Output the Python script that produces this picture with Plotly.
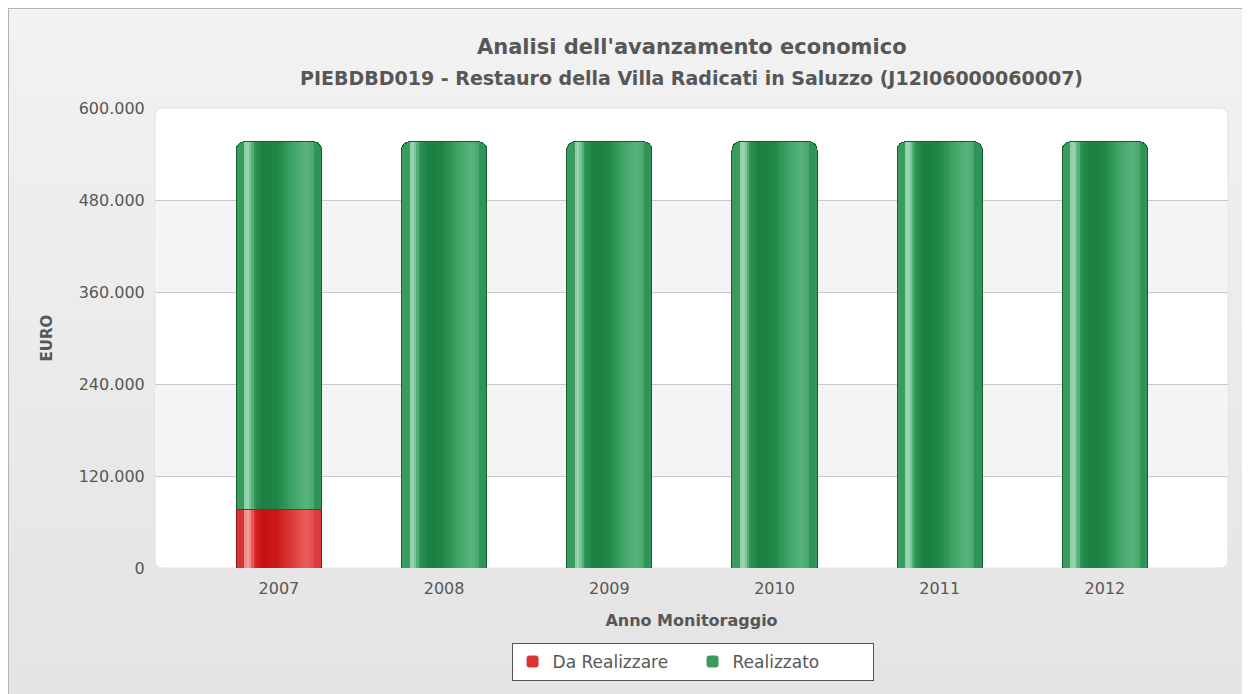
import plotly.graph_objects as go

# ---- data ----
anni = ["2007", "2008", "2009", "2010", "2011", "2012"]
da_realizzare = [76000, 0, 0, 0, 0, 0]
realizzato = [480000, 556000, 556000, 556000, 556000, 556000]
y_ticks = [0, 120000, 240000, 360000, 480000, 600000]

title_main = "Analisi dell'avanzamento economico"
title_sub = "PIEBDBD019 - Restauro della Villa Radicati in Saluzzo (J12I06000060007)"

# page has an 8px body margin -> figure is placed at (8, 8)
W, H = 1242, 686
ML, MR, MT, MB = 147, 22, 100, 126
PW, PH = W - ML - MR, H - MT - MB
BAR_W = 0.515
CAT_PX = PW / (5.745 + 0.75)
BAR_PX = BAR_W * CAT_PX
R = 8  # corner radius px
EDGE = R / BAR_PX

FONT = "DejaVu Sans"
TXT = "#575757"


def hex2rgb(h):
    h = h.lstrip("#")
    return tuple(int(h[i:i + 2], 16) for i in (0, 2, 4))


def interp(keys, t):
    for (t0, c0), (t1, c1) in zip(keys[:-1], keys[1:]):
        if t0 <= t <= t1:
            f = (t - t0) / (t1 - t0) if t1 > t0 else 0
            a, b = hex2rgb(c0), hex2rgb(c1)
            return "rgb(%d,%d,%d)" % tuple(round(a[k] + (b[k] - a[k]) * f) for k in range(3))
    return keys[-1][1] if t > keys[-1][0] else keys[0][1]


green_keys = [(0.09, "#6cc08c"), (0.12, "#a9dcbb"), (0.16, "#7cc699"), (0.22, "#2a9152"),
              (0.32, "#1b8042"), (0.48, "#1e8646"), (0.66, "#3ea466"), (0.82, "#58b47d"),
              (0.91, "#46a66b")]
red_keys = [(0.09, "#ec6a6a"), (0.12, "#f6a9a9"), (0.16, "#f08a8a"), (0.22, "#d52222"),
            (0.32, "#c81010"), (0.48, "#cc1a1a"), (0.66, "#dd3c3c"), (0.82, "#eb5e5e"),
            (0.91, "#e04848")]

fig = go.Figure()

# left / right halves: give the rounded outer corners and edge colour
halves = [("L", -BAR_W / 2, "#d83434", "#3a9b5e", True),
          ("R", 0.0, "#da3c3c", "#2f9457", False)]
for tag, off, rc, gc, leg in halves:
    fig.add_trace(go.Bar(
        name="Da Realizzare", x=anni, y=da_realizzare, offsetgroup="half" + tag,
        width=BAR_W / 2, offset=off, legendgroup="dr", showlegend=leg,
        marker=dict(color=rc, line=dict(width=0), cornerradius=R),
    ))
    fig.add_trace(go.Bar(
        name="Realizzato", x=anni, y=realizzato, offsetgroup="half" + tag,
        width=BAR_W / 2, offset=off, legendgroup="re", showlegend=leg,
        marker=dict(color=gc, line=dict(width=0), cornerradius=R),
    ))

# interior cylinder shading strips
NS = 30
s0, s1 = EDGE, 1 - EDGE
sw = (s1 - s0) / NS
for i in range(NS):
    a = s0 + i * sw
    tc = a + sw / 2
    og = "s%d" % i
    fig.add_trace(go.Bar(
        x=anni, y=da_realizzare, offsetgroup=og,
        width=sw * BAR_W * 1.05, offset=-BAR_W / 2 + a * BAR_W,
        marker=dict(color=interp(red_keys, tc), line=dict(width=0)),
        showlegend=False, hoverinfo="skip",
    ))
    fig.add_trace(go.Bar(
        x=anni, y=realizzato, offsetgroup=og,
        width=sw * BAR_W * 1.05, offset=-BAR_W / 2 + a * BAR_W,
        marker=dict(color=interp(green_keys, tc), line=dict(width=0)),
        showlegend=False, hoverinfo="skip",
    ))

# outlines on top
fig.add_trace(go.Bar(
    x=anni, y=da_realizzare, offsetgroup="outline", width=BAR_W, offset=-BAR_W / 2,
    marker=dict(color="rgba(0,0,0,0)", line=dict(color="#8a1616", width=1), cornerradius=R),
    showlegend=False, hoverinfo="skip",
))
fig.add_trace(go.Bar(
    x=anni, y=realizzato, offsetgroup="outline", width=BAR_W, offset=-BAR_W / 2,
    marker=dict(color="rgba(0,0,0,0)", line=dict(color="#155f31", width=1), cornerradius=R),
    showlegend=False, hoverinfo="skip",
))

shapes = []
# background gradient (paper coords)
x0p, x1p = -ML / PW, (W - ML) / PW
n = 24
top_c, bot_c = (0xF2, 0xF2, 0xF2), (0xE4, 0xE4, 0xE4)
for i in range(n):
    t = i / (n - 1)
    c = tuple(round(top_c[k] + (bot_c[k] - top_c[k]) * t) for k in range(3))
    ya = 1 + MT / PH - i * (H / PH) / n
    yb = ya - (H / PH) / n - 0.002
    shapes.append(dict(type="rect", xref="paper", yref="paper", x0=x0p, x1=x1p,
                       y0=yb, y1=ya, line=dict(width=0),
                       fillcolor="rgb(%d,%d,%d)" % c, layer="below"))
# outer frame (left / top visible)
shapes.append(dict(type="rect", xref="paper", yref="paper",
                   x0=(0 - ML) / PW, x1=(W + 10 - ML) / PW,
                   y0=-(MB + 10) / PH, y1=1 + MT / PH,
                   line=dict(color="#b4b4b4", width=2), fillcolor="rgba(0,0,0,0)", layer="below"))
# rounded white plot area
rx, ry = 8 / PW, 8 / PH
path = (f"M {rx},0 L {1-rx},0 Q 1,0 1,{ry} L 1,{1-ry} Q 1,1 {1-rx},1 "
        f"L {rx},1 Q 0,1 0,{1-ry} L 0,{ry} Q 0,0 {rx},0 Z")
shapes.append(dict(type="path", xref="paper", yref="paper", path=path,
                   fillcolor="#ffffff", line=dict(color="#e0e0e0", width=1), layer="below"))
# alternate bands
for lo, hi in [(120000, 240000), (360000, 480000)]:
    shapes.append(dict(type="rect", xref="paper", yref="y", x0=0, x1=1, y0=lo, y1=hi,
                       fillcolor="#f4f4f4", line=dict(width=0), layer="below"))

annotations = [
    dict(text=f"<b>{title_main}</b>", xref="paper", yref="paper", x=0.5, xanchor="center",
         y=1 + (MT - 39) / PH, yanchor="middle", showarrow=False,
         font=dict(family=FONT, size=21, color=TXT)),
    dict(text=f"<b>{title_sub}</b>", xref="paper", yref="paper", x=0.5, xanchor="center",
         y=1 + (MT - 70) / PH, yanchor="middle", showarrow=False,
         font=dict(family=FONT, size=19, color=TXT)),
]

fig.update_layout(
    width=W, height=H,
    margin=dict(l=ML, r=MR, t=MT, b=MB),
    barmode="stack",
    separators=",.",
    paper_bgcolor="#ececec",
    plot_bgcolor="rgba(0,0,0,0)",
    font=dict(family=FONT, color=TXT, size=16),
    shapes=shapes,
    annotations=annotations,
    xaxis=dict(
        showgrid=False, zeroline=False, showline=False,
        ticks="outside", ticklen=6, tickcolor="rgba(0,0,0,0)",
        tickfont=dict(size=16, color=TXT),
        title=dict(text="<b>Anno Monitoraggio</b>", font=dict(size=16, color=TXT), standoff=17),
        range=[-0.75, 5.745],
    ),
    yaxis=dict(
        range=[0, 600000], tickvals=y_ticks, tickformat=",.0f",
        showgrid=True, gridcolor="#c8c8c8", gridwidth=1, zeroline=False, showline=False,
        ticks="outside", ticklen=6, tickcolor="rgba(0,0,0,0)",
        tickfont=dict(size=16, color=TXT),
        title=dict(text="<b>EURO</b>", font=dict(size=15, color=TXT), standoff=22),
    ),
    legend=dict(
        orientation="h", x=0.501, xanchor="center", y=(560 - 635) / PH, yanchor="top",
        bgcolor="#ffffff", bordercolor="#555555", borderwidth=1,
        font=dict(size=17, color=TXT), itemwidth=30, entrywidth=135,
        traceorder="normal",
    ),
)

fig.write_html("out.html")
